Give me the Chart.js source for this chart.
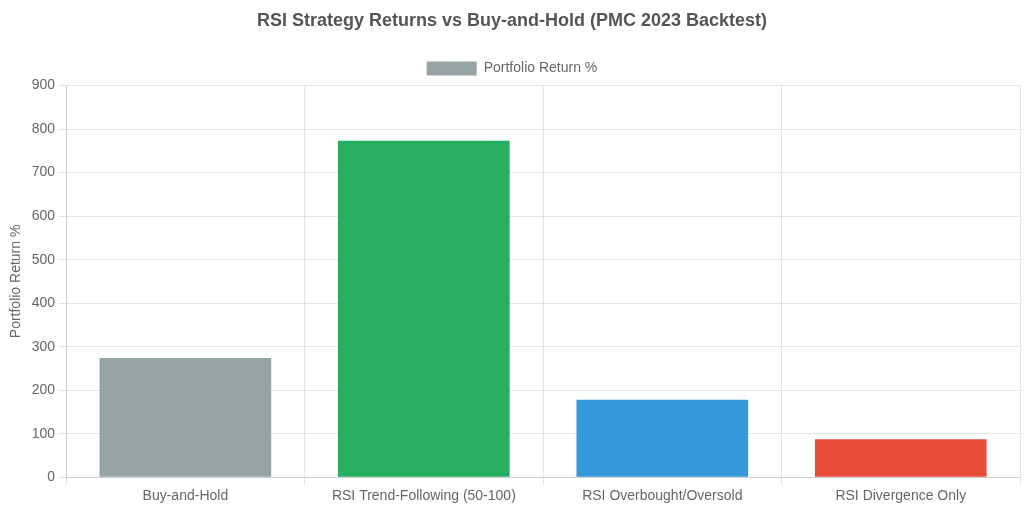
<!DOCTYPE html>
<html>
<head>
<meta charset="utf-8">
<script src="https://cdn.jsdelivr.net/npm/chart.js@4"></script>
<style>
  html, body { margin: 0; padding: 0; background: #fff; }
  #wrap { width: 1024px; height: 512px; }
</style>
</head>
<body>
<div id="wrap"><canvas id="myChart"></canvas></div>
<script>
const categories = ['Buy-and-Hold', 'RSI Trend-Following (50-100)', 'RSI Overbought/Oversold', 'RSI Divergence Only'];
const returns = [274, 773, 178, 87];
const barColors = ['#95a5a6', '#27ae60', '#3498db', '#e74c3c'];

Chart.defaults.font.family = '"Liberation Sans", Arial, sans-serif';
Chart.defaults.color = '#666';

new Chart(document.getElementById('myChart'), {
    type: 'bar',
    data: {
        labels: categories,
        datasets: [{
            label: 'Portfolio Return %',
            data: returns,
            backgroundColor: barColors
        }]
    },
    options: {
        responsive: true,
        maintainAspectRatio: false,
        animation: false,
        layout: { padding: { left: 4, right: 4, bottom: 4 } },
        scales: {
            y: {
                beginAtZero: true,
                max: 900,
                ticks: { stepSize: 100, font: { size: 14 } },
                title: { display: true, text: 'Portfolio Return %', font: { size: 14 } }
            },
            x: {
                ticks: { font: { size: 14 } }
            }
        },
        plugins: {
            title: {
                display: true,
                text: 'RSI Strategy Returns vs Buy-and-Hold (PMC 2023 Backtest)',
                font: { size: 18, weight: 'bold' },
                color: '#555',
                padding: { top: 10, bottom: 20 }
            },
            legend: {
                labels: { font: { size: 14 }, boxWidth: 50, boxHeight: 14 }
            }
        }
    }
});
</script>
</body>
</html>
